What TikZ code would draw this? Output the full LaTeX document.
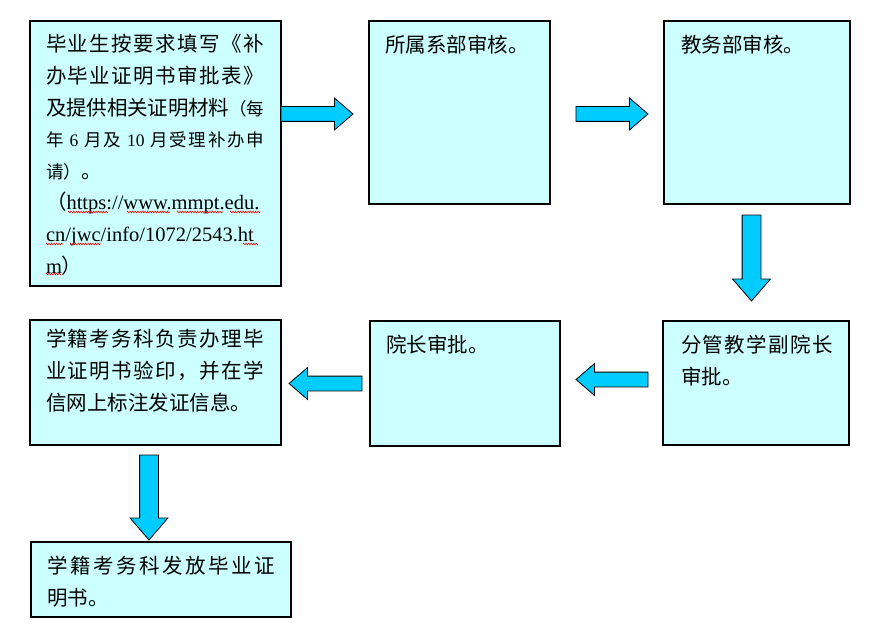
\documentclass[tikz,border=0pt]{standalone}
\usepackage{fontspec}
\setmainfont{Liberation Serif}
\newfontfamily\cjk{Noto Sans CJK SC}
\usetikzlibrary{shapes.arrows,decorations.pathmorphing}
\definecolor{boxfill}{RGB}{204,255,255}
\definecolor{arrowfill}{RGB}{0,204,255}
\def\sprStop{}
\def\sprStopT{\sprStop}
\def\sprA#1{\def\sprT{#1}\ifx\sprT\sprStopT\else#1\expandafter\sprB\fi}
\def\sprB#1{\def\sprT{#1}\ifx\sprT\sprStopT\else\hskip 0pt plus 1fil minus 1pt\relax#1\expandafter\sprB\fi}
\newcommand\jl[2][]{\hbox to\hsize{#1\sprA#2\sprStop}}
\newcommand\pl[1]{\hbox{#1}}
\newcommand\tb[3]{\vtop{\hsize=#1\relax\baselineskip=#2\relax\lineskiplimit=-50pt\relax#3}}
\newcommand\sm{\fontsize{17.5pt}{32pt}\selectfont}
\newcommand\la{\rmfamily}
\tikzset{
  box/.style={draw=black, line width=1.6pt, fill=boxfill, rectangle, inner sep=0pt, outer sep=0pt},
  txt/.style={inner sep=0pt, outer sep=0pt, anchor=base west, font=\cjk\fontsize{20.5pt}{32pt}\selectfont},
  harrow/.style={single arrow, draw=black, line width=0.8pt, fill=arrowfill, inner xsep=0pt, inner ysep=7pt,
    single arrow head extend=8.5pt, minimum width=31pt, single arrow tip angle=81.5, minimum height=72pt, outer sep=0pt, anchor=tail},
  varrow/.style={single arrow, draw=black, line width=0.8pt, fill=arrowfill, inner xsep=0pt, inner ysep=9pt,
    single arrow head extend=9.5pt, minimum width=37pt, single arrow tip angle=81.5, minimum height=86pt, outer sep=0pt, anchor=tail},
  spell/.style={draw=red, line width=0.6pt, decorate, decoration={zigzag, segment length=2.5pt, amplitude=0.8pt}}
}
\begin{document}
\begin{tikzpicture}[x=1pt,y=-1pt]
\fill[white] (0,0) rectangle (882,631);
\useasboundingbox (0,0) rectangle (882,631);
% boxes
\node[box, minimum width=251pt, minimum height=265pt] (b1) at (155.5,153.5) {};
\node[box, minimum width=181pt, minimum height=183pt] (b2) at (459.5,112.5) {};
\node[box, minimum width=186pt, minimum height=183pt] (b3) at (757,112.5) {};
\node[box, minimum width=186pt, minimum height=124pt] (b4) at (756,383) {};
\node[box, minimum width=190pt, minimum height=125pt] (b5) at (465,383.5) {};
\node[box, minimum width=251pt, minimum height=125pt] (b6) at (155.5,382.5) {};
\node[box, minimum width=260pt, minimum height=75pt] (b7) at (161,579.5) {};
% texts
\node[txt] (t1) at ([xshift=16pt,yshift=-31pt]b1.north west) {\tb{218pt}{31.6pt}{%
\jl{毕业生按要求填写《补}%
\jl{办毕业证明书审批表》}%
\jl{及提供相关证明材料{{\sm （}}{{\sm 每}}}%
\jl[\sm]{年{{\la\ 6\ }}月及{{\la\ 10\ }}月受理补办申}%
\pl{{\sm 请）}。}%
\pl{（{\la https://www.mmpt.edu.}}%
\pl{{\la cn/jwc/info/1072/2543.ht}}%
\pl{{\la m}）}}};
\node[txt] (t2) at ([xshift=16pt,yshift=-31.5pt]b2.north west) {所属系部审核。};
\node[txt] (t3) at ([xshift=17pt,yshift=-31.5pt]b3.north west) {教务部审核。};
\node[txt] (t4) at ([xshift=18pt,yshift=-31.5pt]b4.north west) {\tb{152pt}{32pt}{\jl{分管教学副院长}\pl{审批。}}};
\node[txt] (t5) at ([xshift=16pt,yshift=-31pt]b5.north west) {院长审批。};
\node[txt] (t6) at ([xshift=16pt,yshift=-26.5pt]b6.north west) {\tb{218pt}{32pt}{\jl{学籍考务科负责办理毕}\jl{业证明书验印，并在学}\pl{信网上标注发证信息。}}};
\node[txt] (t7) at ([xshift=16pt,yshift=-31.5pt]b7.north west) {\tb{228pt}{32pt}{\jl{学籍考务科发放毕业证}\pl{明书。}}};
% spell-check underlines
\draw[spell] (68,212) -- (108,212);
\draw[spell] (127,212) -- (170,212);
\draw[spell] (177,212) -- (223,212);
\draw[spell] (230,212) -- (260,212);
\draw[spell] (46,244) -- (63,244);
\draw[spell] (70,244) -- (101,244);
\draw[spell] (243,244) -- (258,244);
\draw[spell] (46,274) -- (61,274);
% block arrows
\node[harrow] (a1) at (281,114) {};
\node[harrow] (a2) at (576,114) {};
\node[varrow, rotate=-90] (a3) at (751.5,215) {};
\node[harrow, rotate=180] (a4) at (648,379.5) {};
\node[harrow, rotate=180, minimum height=73pt] (a5) at (362,383.5) {};
\node[varrow, rotate=-90, minimum height=85pt] (a6) at (149,455) {};
\end{tikzpicture}
\end{document}
